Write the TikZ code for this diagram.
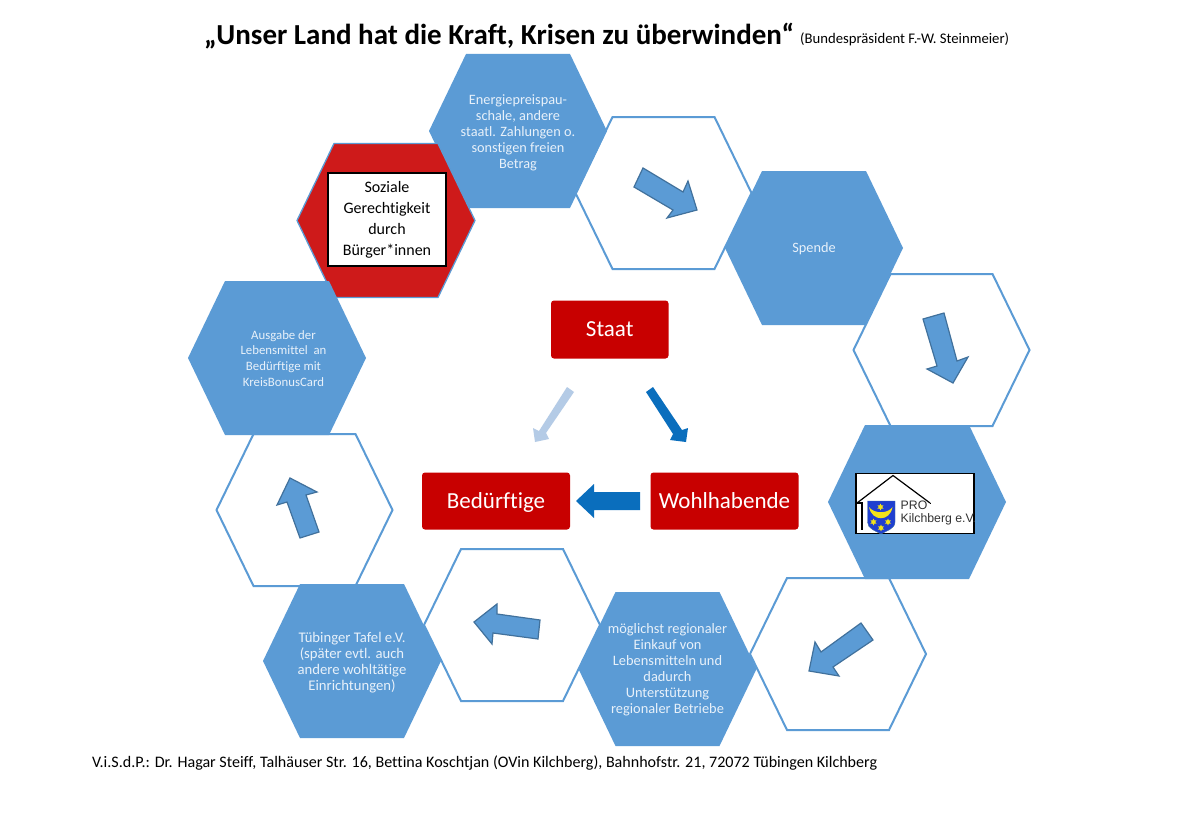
\documentclass[tikz,border=0pt]{standalone}
\usepackage{fontspec}
\setmainfont{Carlito}[RawFeature={-liga;-clig}]
\newfontfamily\logofont{Liberation Sans}
\definecolor{hexblue}{HTML}{5B9BD5}
\definecolor{hexedge}{HTML}{5B9BD5}
\definecolor{arrowedge}{HTML}{41719C}
\definecolor{hexred}{HTML}{CE1A1A}
\definecolor{boxred}{HTML}{C80000}
\definecolor{darkarrow}{HTML}{0A6EBD}
\definecolor{lightarrow}{HTML}{B4CBE6}
\definecolor{hextext}{HTML}{E8F1FA}
\definecolor{shieldblue}{HTML}{1F3FD0}
\definecolor{shieldyellow}{HTML}{F2E21A}
\newcommand\hexpath[1]{(#1)++(-89,0)--++(37,-77)--++(104,0)--++(37,77)--++(-37,77)--++(-104,0)--cycle}
\newcommand\whitehexpath[1]{(#1)++(-88,0)--++(37,-76)--++(102,0)--++(37,76)--++(-37,76)--++(-102,0)--cycle}
\tikzset{
  bluehex/.style={fill=hexblue,draw=none},
  whitehex/.style={fill=white,draw=hexedge,line width=2pt,line join=miter},
  redhex/.style={fill=hexred,draw=hexedge,line width=1.3pt},
  hextxt/.style={text=hextext,align=center,inner sep=0pt},
  redbox/.style={fill=boxred,rounded corners=3pt,text=white,font=\fontsize{23}{27}\selectfont,inner sep=0pt,anchor=center,text height=17pt,text depth=3pt},
  ringarrow/.style={fill=hexblue,draw=arrowedge,line width=1.2pt,line join=miter},
  midarrow/.style={fill=darkarrow,draw=none},
  paleArrow/.style={fill=lightarrow,draw=none},
  plaintxt/.style={inner sep=0pt,text=black},
  star6/.style={star,star points=6,star point ratio=2,fill=shieldyellow,draw=none,minimum size=7pt,inner sep=0pt},
}
\usetikzlibrary{shapes.geometric}
\begin{document}
\begin{tikzpicture}[x=1pt,y=-1pt]
\useasboundingbox[fill=white] (0,0) rectangle (1179,816);
% centres
\coordinate (c1) at (518,131);
\coordinate (c2) at (663.5,193);
\coordinate (c3) at (814,248);
\coordinate (c4) at (941.5,350);
\coordinate (c5) at (917,502);
\coordinate (c6) at (838,654);
\coordinate (c7) at (667.5,669);
\coordinate (c8) at (512,625);
\coordinate (c9) at (352,661);
\coordinate (c10) at (304.5,510);
\coordinate (c11) at (277,358);
\coordinate (c12) at (386,220.5);
% white hexagons
\draw[whitehex] \whitehexpath{c2};
\draw[whitehex] \whitehexpath{c4};
\draw[whitehex] \whitehexpath{c6};
\draw[whitehex] \whitehexpath{c8};
\draw[whitehex] \whitehexpath{c10};
% blue hexagons
\fill[bluehex] \hexpath{c1};
\fill[bluehex] \hexpath{c3};
\fill[bluehex] \hexpath{c5};
\fill[bluehex] \hexpath{c7};
\fill[bluehex] \hexpath{c9};
\draw[redhex] \hexpath{c12};
\fill[bluehex] \hexpath{c11};
% hexagon texts
\node[hextxt,font=\fontsize{14.3}{16}\selectfont] (t1) at (518,132.5) {Energiepreispau-\\schale, andere\\staatl. Zahlungen o.\\sonstigen freien\\Betrag};
\node[hextxt,font=\fontsize{14.3}{16}\selectfont] (t3) at (814,249) {Spende};
\node[hextxt,font=\fontsize{14.4}{16}\selectfont] (t7) at (667.5,670) {möglichst regionaler\\Einkauf von\\Lebensmitteln und\\dadurch\\Unterstützung\\regionaler Betriebe};
\node[hextxt,font=\fontsize{14.7}{16}\selectfont] (t9) at (352,662.5) {Tübinger Tafel e.V.\\(später evtl. auch\\andere wohltätige\\Einrichtungen)};
\node[hextxt,font=\fontsize{12.8}{15.8}\selectfont] (t11) at (283.5,358.5) {Ausgabe der\\Lebensmittel\ \ an\\Bedürftige mit\\KreisBonusCard};
% Soziale Gerechtigkeit box
\node[fill=white,draw=black,line width=1.6pt,minimum width=118pt,minimum height=93pt,inner sep=0pt,align=center,font=\fontsize{16}{21}\selectfont] (sg) at (387,219.5) {Soziale\\Gerechtigkeit\\durch\\Bürger*innen};
% ring arrows
\draw[ringarrow] (643,168)--(683,192)--(688,181)--(697,210)--(667,218)--(673,210)--(634,187)--cycle;
\draw[ringarrow] (923,319)--(944,313)--(957,361)--(968,357)--(953,383)--(927,369)--(937,366)--cycle;
\draw[ringarrow] (861,623)--(873,640)--(833,667)--(839,676)--(809,671)--(815,642)--(821,652)--cycle;
\draw[ringarrow] (540,620)--(538,639)--(493,633)--(492,644)--(474,622)--(497,604)--(497,614)--cycle;
\draw[ringarrow] (319,532)--(300,538)--(287,502)--(277,505)--(290,478)--(317,492)--(306,495)--cycle;
% central boxes
\node[redbox,minimum width=117.5pt,minimum height=58pt] (staat) at (609.75,329.5) {Staat};
\node[redbox,minimum width=148pt,minimum height=57pt] (bed) at (496,501) {Bedürftige};
\node[redbox,minimum width=148pt,minimum height=57pt] (wohl) at (724.5,501) {Wohlhabende};
% central arrows
\fill[paleArrow] (567,387)--(574,392)--(546,433)--(549,439)--(535,442)--(533,428)--(539,431)--cycle;
\fill[midarrow] (653,387)--(682,430)--(688,428)--(686,442)--(670,440)--(673,434)--(646,392)--cycle;
\fill[midarrow] (640,492)--(640,510)--(594,510)--(594,518)--(576,501)--(594,484)--(594,492)--cycle;
% logo
\node[fill=white,draw=black,line width=1.3pt,minimum width=118pt,minimum height=60pt,inner sep=0pt] (logo) at (915,503.5) {};
\draw[black,line width=1.2pt] (857,503)--(893,475.5)--(930,503);
\draw[black,line width=1.2pt] (857,503)--(862,503)--(862,530);
\draw[black,line width=0.8pt] (930,503)--(931,503);
\fill[shieldblue,draw=arrowedge,line width=0.4pt] (867.5,501)--(895,501)--(895,522) .. controls (895,529) and (886,531) .. (881,534) .. controls (876,531) and (867.5,529) .. (867.5,522)--cycle;
\fill[shieldyellow] (869,507) .. controls (872,522) and (890,522) .. (892.5,507) .. controls (888,514) and (874,514) .. (869,507)--cycle;
\node[star6] (s1) at (880.5,507) {};
\node[star6] (s2) at (873.5,522) {};
\node[star6] (s3) at (888,522) {};
\node[star6] (s4) at (881,528) {};
\node[plaintxt,anchor=west,align=left,font=\logofont\fontsize{12.3}{13.5}\selectfont,text=black!80] (logotxt) at (900.5,513) {PRO\\Kilchberg e.V.};
% title
\node[plaintxt,anchor=base west,font=\bfseries\fontsize{29}{32}\selectfont] (title) at (204,45) {„Unser Land hat die Kraft, Krisen zu überwinden“};
\node[plaintxt,anchor=base west,font=\fontsize{14.7}{16}\selectfont] (sub) at (800,44) {(Bundespräsident F.-W. Steinmeier)};
\node[plaintxt,anchor=base west,font=\fontsize{16.06}{18}\selectfont] (foot) at (92,767) {V.i.S.d.P.: Dr. Hagar Steiff, Talhäuser Str. 16, Bettina Koschtjan (OVin Kilchberg), Bahnhofstr. 21, 72072 Tübingen Kilchberg};
\end{tikzpicture}
\end{document}
